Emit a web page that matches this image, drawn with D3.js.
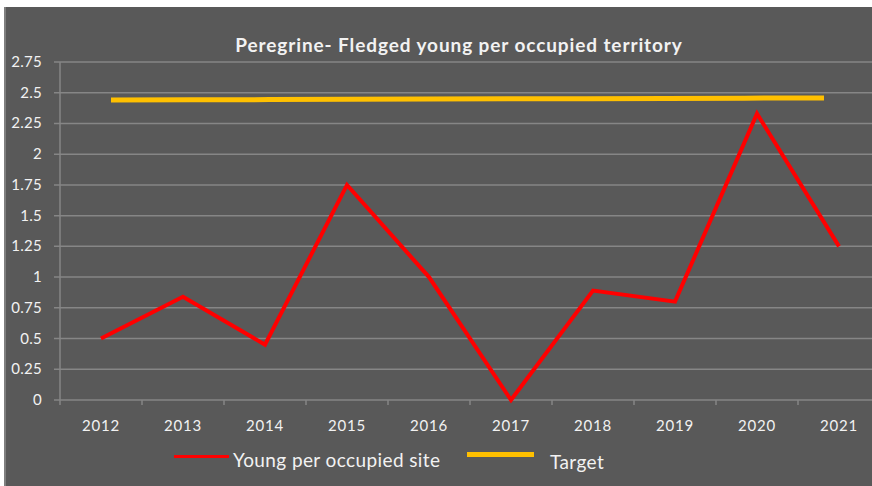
<!DOCTYPE html>
<html>
<head>
<meta charset="utf-8">
<script src="https://cdn.jsdelivr.net/npm/d3@7"></script>
<style>
  body { margin: 0; background: #fff; }
  text { font-family: Lato, "Open Sans", sans-serif; fill: #f2f2f2; }
</style>
</head>
<body>
<div id="chart"></div>
<script>
// data
const years = ["2012", "2013", "2014", "2015", "2016", "2017", "2018", "2019", "2020", "2021"];
const young = [0.5, 0.84, 0.45, 1.75, 1.0, 0, 0.89, 0.8, 2.33, 1.25];
const target = [2.44, 2.442, 2.444, 2.446, 2.448, 2.45, 2.452, 2.454, 2.456, 2.458];
const yTicks = [0, 0.25, 0.5, 0.75, 1, 1.25, 1.5, 1.75, 2, 2.25, 2.5, 2.75];
const legend = ["Young per occupied site", "Target"];

const W = 872, H = 486;
const margin = { top: 62, left: 60, bottom: 86 };
const band = 82;

const svg = d3.select("#chart").append("svg")
  .attr("width", W).attr("height", H);

// chart background
svg.append("rect")
  .attr("x", 4).attr("y", 7)
  .attr("width", W - 4).attr("height", H - 7)
  .attr("fill", "#595959");
svg.append("rect")
  .attr("x", 4).attr("y", 7)
  .attr("width", 2).attr("height", H - 7)
  .attr("fill", "#7f7f7f");

const x = d3.scaleBand()
  .domain(years)
  .range([margin.left, margin.left + band * years.length]);

// target series sits on its own (secondary) horizontal axis
const x2 = d3.scalePoint()
  .domain(years)
  .range([111, 824]);

const y = d3.scaleLinear()
  .domain([0, 2.75])
  .range([H - margin.bottom, margin.top]);

// gridlines
svg.append("g")
  .selectAll("line")
  .data(yTicks)
  .enter().append("line")
  .attr("x1", margin.left - 6).attr("x2", W)
  .attr("y1", d => y(d)).attr("y2", d => y(d))
  .attr("stroke", "#868686")
  .attr("stroke-width", 1.5);

// y axis line
svg.append("line")
  .attr("x1", margin.left).attr("x2", margin.left)
  .attr("y1", y(2.75)).attr("y2", y(0) + 5)
  .attr("stroke", "#868686").attr("stroke-width", 1.5);

// y labels
svg.append("g")
  .selectAll("text")
  .data(yTicks)
  .enter().append("text")
  .attr("x", 42)
  .attr("y", d => y(d) + 5)
  .attr("text-anchor", "end")
  .style("font-size", "15px")
  .style("letter-spacing", "0.3px")
  .text(d => d);

// x axis ticks
svg.append("g")
  .selectAll("line")
  .data(years.slice(1))
  .enter().append("line")
  .attr("x1", d => x(d)).attr("x2", d => x(d))
  .attr("y1", y(0)).attr("y2", y(0) + 5)
  .attr("stroke", "#868686").attr("stroke-width", 1.5);

svg.append("g")
  .selectAll("text")
  .data(years)
  .enter().append("text")
  .attr("x", d => x(d) + x.bandwidth() / 2)
  .attr("y", y(0) + 31)
  .attr("text-anchor", "middle")
  .style("font-size", "15px")
  .style("letter-spacing", "0.8px")
  .text(d => d);

// lines
const targetLine = d3.line()
  .x((d, i) => x2(years[i]))
  .y(d => y(d));

svg.append("path")
  .attr("d", targetLine(target))
  .attr("fill", "none")
  .attr("stroke", "#ffc000")
  .attr("stroke-width", 5);

const youngLine = d3.line()
  .x((d, i) => x(years[i]) + x.bandwidth() / 2)
  .y(d => y(d));

svg.append("path")
  .attr("d", youngLine(young))
  .attr("fill", "none")
  .attr("stroke", "#ff0000")
  .attr("stroke-width", 4)
  .attr("stroke-linejoin", "miter");

// title
svg.append("text")
  .attr("x", 459)
  .attr("y", 52)
  .attr("text-anchor", "middle")
  .style("font-size", "19px")
  .style("font-weight", "bold")
  .style("letter-spacing", "0.9px")
  .text("Peregrine- Fledged young per occupied territory");

// legend
const legendColors = ["#ff0000", "#ffc000"];
const legendPos = [
  { x1: 174, x2: 229, y: 456.5, w: 3, tx: 233, ty: 467 },
  { x1: 467, x2: 534, y: 454.5, w: 5, tx: 550, ty: 469 }
];
const items = svg.selectAll(".legend")
  .data(legend)
  .enter().append("g")
  .attr("class", "legend");

items.append("line")
  .attr("x1", (d, i) => legendPos[i].x1)
  .attr("x2", (d, i) => legendPos[i].x2)
  .attr("y1", (d, i) => legendPos[i].y)
  .attr("y2", (d, i) => legendPos[i].y)
  .attr("stroke", (d, i) => legendColors[i])
  .attr("stroke-width", (d, i) => legendPos[i].w);

items.append("text")
  .attr("x", (d, i) => legendPos[i].tx)
  .attr("y", (d, i) => legendPos[i].ty)
  .style("font-size", "19px")
  .style("letter-spacing", "0.4px")
  .text(d => d);
</script>
</body>
</html>
